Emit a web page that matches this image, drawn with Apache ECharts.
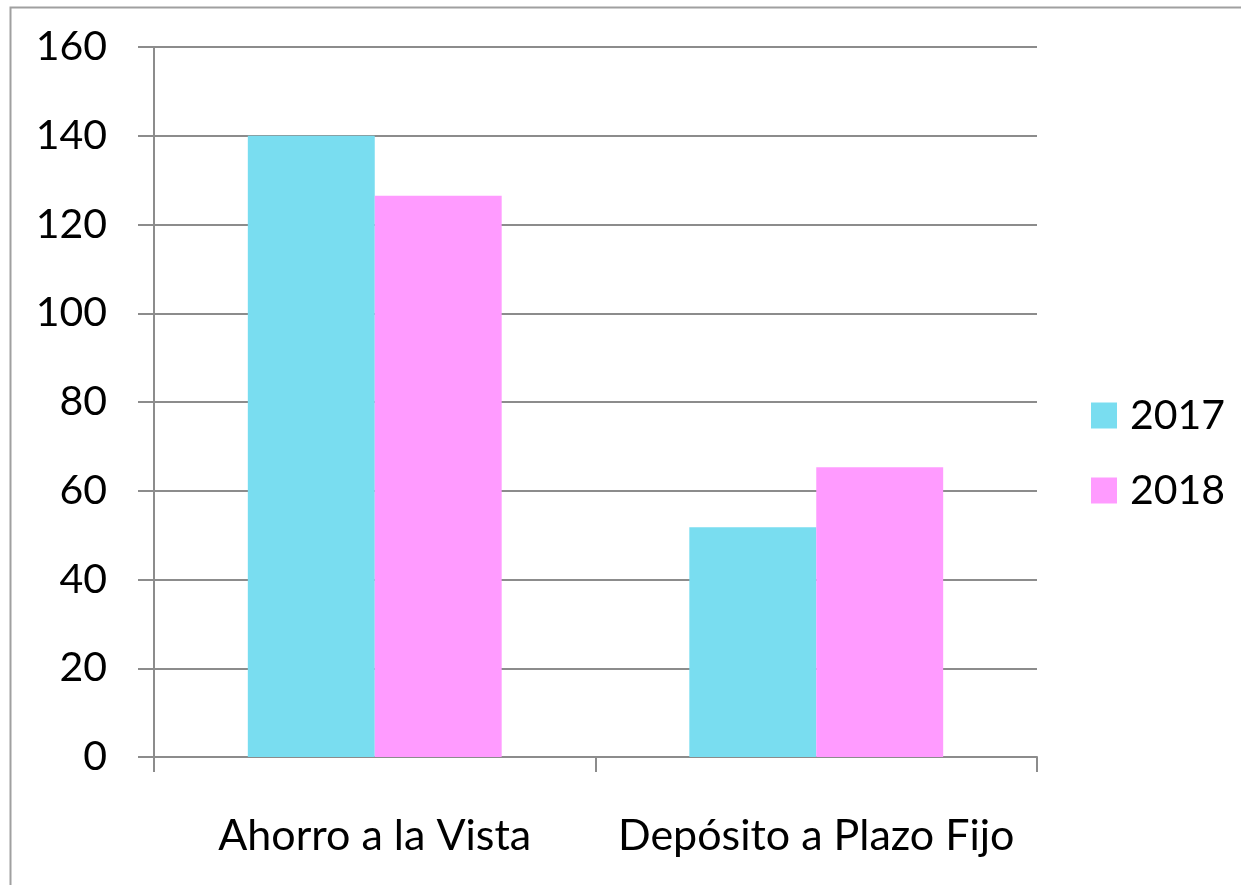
<!DOCTYPE html>
<html>
<head>
<meta charset="utf-8">
<title>Ahorro vs Depósito</title>
<script src="https://cdn.jsdelivr.net/npm/echarts@6/dist/echarts.min.js"></script>
<style>
  html, body { margin: 0; padding: 0; background: #fff; }
  #main { width: 1241px; height: 885px; }
</style>
</head>
<body>
<div id="main"></div>
<script>
// categorias y valores
const categories = ['Ahorro a la Vista', 'Depósito a Plazo Fijo']
const years = ['2017', '2018']
const values2017 = [140, 51.8]
const values2018 = [126.5, 65.3]
const yTicks = { min: 0, max: 160, interval: 20 }

const font = 'Lato, "Open Sans", sans-serif'
const lineColor = '#8c8c8c'

const myChart = echarts.init(document.getElementById('main'))

const option = {
  animation: false,
  color: ['#79ddf0', '#ff9bff'],
  textStyle: { fontFamily: font },
  // marco gris alrededor (se sale del recorte a la derecha y abajo)
  graphic: [
    {
      type: 'rect',
      left: 8,
      top: 5,
      shape: { width: 1300, height: 950 },
      style: { fill: 'none', stroke: '#a0a0a0', lineWidth: 2 },
      silent: true
    }
  ],
  legend: {
    orient: 'vertical',
    left: 1086,
    top: 390,
    icon: 'rect',
    itemWidth: 26,
    itemHeight: 26,
    itemGap: 34,
    data: years,
    textStyle: { fontSize: 41, color: '#000', lineHeight: 40, padding: [0, 0, 0, 8], fontFamily: font }
  },
  grid: {
    left: 154,
    right: 204,
    top: 47,
    bottom: 128
  },
  xAxis: {
    type: 'category',
    data: categories,
    axisLine: { lineStyle: { color: lineColor, width: 2 } },
    axisTick: { show: true, length: 15, lineStyle: { color: lineColor, width: 2 } },
    axisLabel: { color: '#000', fontSize: 43, margin: 58, interval: 0, fontFamily: font }
  },
  yAxis: {
    type: 'value',
    min: yTicks.min,
    max: yTicks.max,
    interval: yTicks.interval,
    axisLine: { show: true, lineStyle: { color: lineColor, width: 2 } },
    axisTick: { show: true, length: 16, lineStyle: { color: lineColor, width: 2 } },
    axisLabel: { color: '#000', fontSize: 41, margin: 47, fontFamily: font },
    splitLine: { lineStyle: { color: lineColor, width: 2 } }
  },
  series: [
    {
      name: years[0],
      type: 'bar',
      data: values2017,
      barGap: '0%',
      barCategoryGap: '42.5%'
    },
    {
      name: years[1],
      type: 'bar',
      data: values2018,
      barGap: '0%',
      barCategoryGap: '42.5%'
    }
  ]
}

myChart.setOption(option)
</script>
</body>
</html>
